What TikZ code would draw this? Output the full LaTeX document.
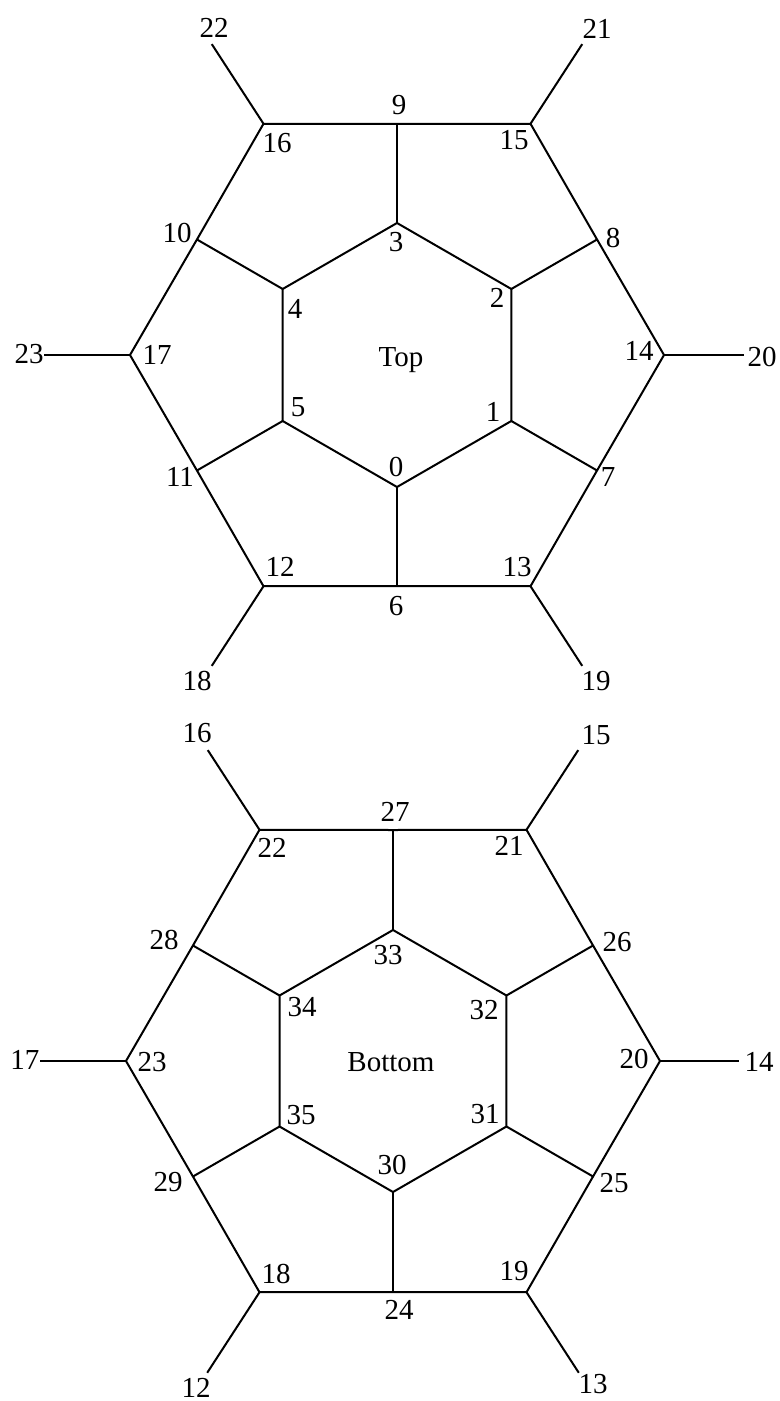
\documentclass[tikz,border=0pt]{standalone}
\usepackage{fontspec}
\setmainfont{Liberation Serif}
\usetikzlibrary{calc}
\tikzset{
  edge/.style={line width=1pt,black},
  num/.style={font=\fontsize{14.5}{17}\selectfont,inner sep=0pt},
}

\begin{document}
\begin{tikzpicture}[x=0.5pt,y=0.5pt]
\useasboundingbox (0,0) rectangle (780,-1401);
% top half: hexagon 0..5, spokes 6..11, rim 12..17
\begin{scope}[shift={(397,-355)}]
\foreach \k/\ang/\len in {0/-123/95,1/-57/95,2/0/80,3/57/95,4/123/95,5/180/86}{
  \pgfmathtruncatemacro\s{6+\k}
  \pgfmathtruncatemacro\o{12+\k}
  \coordinate (t\k) at ({-90+60*\k}:132);
  \coordinate (t\s) at ({-90+60*\k}:231);
  \coordinate (t\o) at ({-120+60*\k}:267);
  \coordinate (tp\o) at ($(t\o)+(\ang:\len)$);
}
\end{scope}
\draw[edge] (t0) -- (t1) -- (t2) -- (t3) -- (t4) -- (t5) -- cycle;
\draw[edge] (t12) -- (t6) -- (t13) -- (t7) -- (t14) -- (t8) -- (t15)
  -- (t9) -- (t16) -- (t10) -- (t17) -- (t11) -- cycle;
\foreach \k in {0,...,5}{
  \pgfmathtruncatemacro\s{6+\k}
  \pgfmathtruncatemacro\o{12+\k}
  \draw[edge] (t\k) -- (t\s);
  \draw[edge] (t\o) -- (tp\o);
}
\foreach \n/\x/\y in {0/396/467,1/493/412,2/497/298,3/396/242,4/295/309,
  5/298/407,6/396/606,7/608/477,8/613/238,9/399/105,10/177/233,11/180/477,
  12/280/567,13/517/567,14/639/351,15/514/140,16/277/143,17/157/355}
  \node[num] (lt\n) at (\x,-\y) {\n};
\foreach \n/\x/\y in {18/197/681,19/596/681,20/762/357,21/597/29,
  22/214/28,23/29/354}
  \node[num] (pt\n) at (\x,-\y) {\n};
\node[num] (toplab) at (401,-360) {Top};
% bottom half: hexagon 30..35, spokes 24..29, rim 18..23
\begin{scope}[shift={(393,-1061)}]
\foreach \k/\ang/\len in {0/-123/96,1/-57/96,2/0/79,3/57/95,4/123/95,5/180/86}{
  \pgfmathtruncatemacro\i{30+\k}
  \pgfmathtruncatemacro\s{24+\k}
  \pgfmathtruncatemacro\o{18+\k}
  \coordinate (b\i) at ({-90+60*\k}:131);
  \coordinate (b\s) at ({-90+60*\k}:231);
  \coordinate (b\o) at ({-120+60*\k}:267);
  \coordinate (bp\o) at ($(b\o)+(\ang:\len)$);
}
\end{scope}
\draw[edge] (b30) -- (b31) -- (b32) -- (b33) -- (b34) -- (b35) -- cycle;
\draw[edge] (b18) -- (b24) -- (b19) -- (b25) -- (b20) -- (b26) -- (b21)
  -- (b27) -- (b22) -- (b28) -- (b23) -- (b29) -- cycle;
\foreach \k in {0,...,5}{
  \pgfmathtruncatemacro\i{30+\k}
  \pgfmathtruncatemacro\s{24+\k}
  \pgfmathtruncatemacro\o{18+\k}
  \draw[edge] (b\i) -- (b\s);
  \draw[edge] (b\o) -- (bp\o);
}
\foreach \n/\x/\y in {18/276/1274,19/514/1271,20/634/1059,21/509/846,
  22/272/848,23/152/1062,24/399/1310,25/614/1183,26/617/942,27/395/812,
  28/164/940,29/168/1182,30/392/1165,31/485/1114,32/484/1010,33/388/955,
  34/302/1007,35/301/1115}
  \node[num] (lb\n) at (\x,-\y) {\n};
\foreach \n/\x/\y in {12/196/1388,13/593/1384,14/759/1062,15/596/735,
  16/197/733,17/25/1060}
  \node[num] (pb\n) at (\x,-\y) {\n};
\node[num] (botlab) at (391,-1062) {Bottom};
\end{tikzpicture}
\end{document}
